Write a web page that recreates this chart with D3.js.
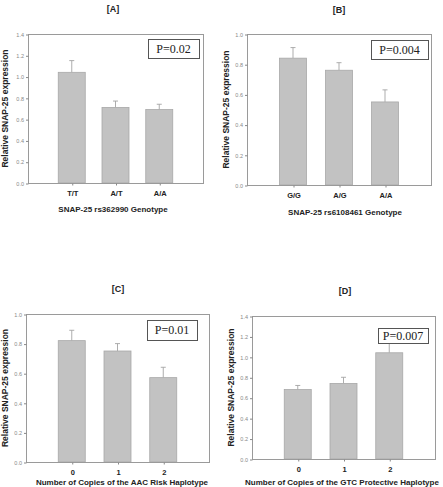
<!DOCTYPE html>
<html>
<head>
<meta charset="utf-8">
<script src="https://cdn.jsdelivr.net/npm/d3@7"></script>
<style>
  body { margin: 0; background: #fff; }
  svg { display: block; }
  .frame { fill: none; stroke: #9a9a9a; stroke-width: 1; }
  .bar { fill: #c2c2c2; stroke: #a8a8a8; stroke-width: 0.8; }
  .err { stroke: #a4a4a4; stroke-width: 0.9; }
</style>
</head>
<body>
<div id="wrapper"></div>
<script>
// DATA
const CATS_A = [`T/T`, `A/T`, `A/A`];
const MEANS_A = [1.04, 0.71, 0.69];
const ERRS_A = [1.15, 0.77, 0.74];

const CATS_B = [`G/G`, `A/G`, `A/A`];
const MEANS_B = [0.84, 0.76, 0.55];
const ERRS_B = [0.91, 0.81, 0.63];

const CATS_C = [`0`, `1`, `2`];
const MEANS_C = [0.82, 0.75, 0.57];
const ERRS_C = [0.89, 0.80, 0.64];

const CATS_D = [`0`, `1`, `2`];
const MEANS_D = [0.68, 0.74, 1.04];
const ERRS_D = [0.72, 0.80, 1.15];

const TICKS_14 = [0, 0.2, 0.4, 0.6, 0.8, 1.0, 1.2, 1.4];
const TICKS_10 = [0, 0.2, 0.4, 0.6, 0.8, 1.0];

const SANS = `"Liberation Sans", Arial, sans-serif`;
const SERIF = `"Liberation Serif", "Times New Roman", serif`;

const svg = d3.select(`#wrapper`)
  .append(`svg`)
  .attr(`width`, 443)
  .attr(`height`, 487);

// PANEL
const drawPanel = p => {
  const x = d3.scalePoint()
    .domain(p.cats)
    .range([p.left, p.right])
    .padding(1);

  const yMax = d3.max(p.ticks);
  const y = d3.scaleLinear()
    .domain([0, yMax])
    .range([p.bottom, p.top]);

  const g = svg.append(`g`);
  const barWidth = 27;

  // panel letter
  g.append(`text`)
    .attr(`x`, p.titleX)
    .attr(`y`, p.titleY)
    .attr(`text-anchor`, `middle`)
    .attr(`font-family`, SANS)
    .attr(`font-weight`, `bold`)
    .attr(`font-size`, 9)
    .attr(`fill`, `#222`)
    .text(p.title);

  const rows = p.cats.map((c, i) => ({ cat: c, mean: p.means[i], err: p.errs[i] }));

  // error bars (upper only)
  g.selectAll(`.err-v`)
    .data(rows)
    .enter()
    .append(`line`)
    .attr(`class`, `err`)
    .attr(`x1`, d => x(d.cat))
    .attr(`x2`, d => x(d.cat))
    .attr(`y1`, d => y(d.mean))
    .attr(`y2`, d => y(d.err));

  g.selectAll(`.err-h`)
    .data(rows)
    .enter()
    .append(`line`)
    .attr(`class`, `err`)
    .attr(`x1`, d => x(d.cat) - 2.5)
    .attr(`x2`, d => x(d.cat) + 2.5)
    .attr(`y1`, d => y(d.err))
    .attr(`y2`, d => y(d.err));

  g.selectAll(`.bar`)
    .data(rows)
    .enter()
    .append(`rect`)
    .attr(`class`, `bar`)
    .attr(`x`, d => x(d.cat) - barWidth / 2)
    .attr(`y`, d => y(d.mean))
    .attr(`width`, barWidth)
    .attr(`height`, d => y(0) - y(d.mean));

  // frame
  g.append(`rect`)
    .attr(`class`, `frame`)
    .attr(`x`, p.left + 0.5)
    .attr(`y`, p.top + 0.5)
    .attr(`width`, p.right - p.left)
    .attr(`height`, p.bottom - p.top);

  // y axis
  const yAxis = d3.axisLeft(y)
    .tickValues(p.ticks)
    .tickSize(2.5)
    .tickPadding(2)
    .tickFormat(d3.format(`.1f`));

  const ya = g.append(`g`)
    .attr(`transform`, `translate(${p.left + 0.5},0.5)`)
    .call(yAxis);
  ya.select(`.domain`).remove();
  ya.selectAll(`.tick line`).attr(`stroke`, `#888`);
  ya.selectAll(`.tick text`)
    .attr(`font-family`, SANS)
    .attr(`font-size`, 5.5)
    .attr(`fill`, `#888`);

  // x axis
  const xAxis = d3.axisBottom(x)
    .tickSize(2)
    .tickPadding(5);

  const xa = g.append(`g`)
    .attr(`transform`, `translate(0.5,${p.bottom + 0.5})`)
    .call(xAxis);
  xa.select(`.domain`).remove();
  xa.selectAll(`.tick line`).attr(`stroke`, `#888`);
  xa.selectAll(`.tick text`)
    .attr(`font-family`, SANS)
    .attr(`font-weight`, `bold`)
    .attr(`font-size`, 7.5)
    .attr(`fill`, `#222`);

  // axis titles
  g.append(`text`)
    .attr(`x`, p.xTitleX)
    .attr(`y`, p.xTitleY)
    .attr(`text-anchor`, `middle`)
    .attr(`font-family`, SANS)
    .attr(`font-weight`, `bold`)
    .attr(`font-size`, 8)
    .attr(`fill`, `#222`)
    .text(p.xTitle);

  g.append(`text`)
    .attr(`transform`, `translate(${p.yTitleX},${(p.top + p.bottom) / 2}) rotate(-90)`)
    .attr(`text-anchor`, `middle`)
    .attr(`font-family`, SANS)
    .attr(`font-weight`, `bold`)
    .attr(`font-size`, 8.5)
    .attr(`fill`, `#222`)
    .text(`Relative SNAP-25 expression`);

  // P value box
  g.append(`rect`)
    .attr(`x`, p.box[0] + 0.5)
    .attr(`y`, p.box[1] + 0.5)
    .attr(`width`, p.box[2])
    .attr(`height`, p.box[3])
    .attr(`fill`, `#fff`)
    .attr(`stroke`, `#555`)
    .attr(`stroke-width`, 1);

  g.append(`text`)
    .attr(`x`, p.box[0] + p.box[2] / 2)
    .attr(`y`, p.box[1] + p.box[3] / 2 + 4)
    .attr(`text-anchor`, `middle`)
    .attr(`font-family`, SERIF)
    .attr(`font-size`, 12)
    .attr(`fill`, `#222`)
    .text(p.pText);
};

drawPanel({
  title: `[A]`, titleX: 113, titleY: 12,
  cats: CATS_A, means: MEANS_A, errs: ERRS_A, ticks: TICKS_14,
  left: 28, top: 34, right: 203, bottom: 183,
  xTitle: `SNAP-25 rs362990 Genotype`, xTitleX: 113, xTitleY: 212,
  yTitleX: 8,
  box: [148, 39, 51, 19], pText: `P=0.02`
});

drawPanel({
  title: `[B]`, titleX: 339, titleY: 13,
  cats: CATS_B, means: MEANS_B, errs: ERRS_B, ticks: TICKS_10,
  left: 247, top: 34, right: 431, bottom: 185,
  xTitle: `SNAP-25 rs6108461 Genotype`, xTitleX: 345, xTitleY: 215,
  yTitleX: 229,
  box: [371, 40, 57, 19], pText: `P=0.004`
});

drawPanel({
  title: `[C]`, titleX: 118, titleY: 292,
  cats: CATS_C, means: MEANS_C, errs: ERRS_C, ticks: TICKS_10,
  left: 26, top: 314, right: 209, bottom: 462,
  xTitle: `Number of Copies of the AAC Risk Haplotype`, xTitleX: 122, xTitleY: 485,
  yTitleX: 8,
  box: [147, 320, 50, 20], pText: `P=0.01`
});

drawPanel({
  title: `[D]`, titleX: 345, titleY: 294,
  cats: CATS_D, means: MEANS_D, errs: ERRS_D, ticks: TICKS_14,
  left: 252, top: 316, right: 435, bottom: 459,
  xTitle: `Number of Copies of the GTC Protective Haplotype`, xTitleX: 342, xTitleY: 485,
  yTitleX: 234,
  box: [378, 328, 50, 15], pText: `P=0.007`
});
</script>
</body>
</html>
